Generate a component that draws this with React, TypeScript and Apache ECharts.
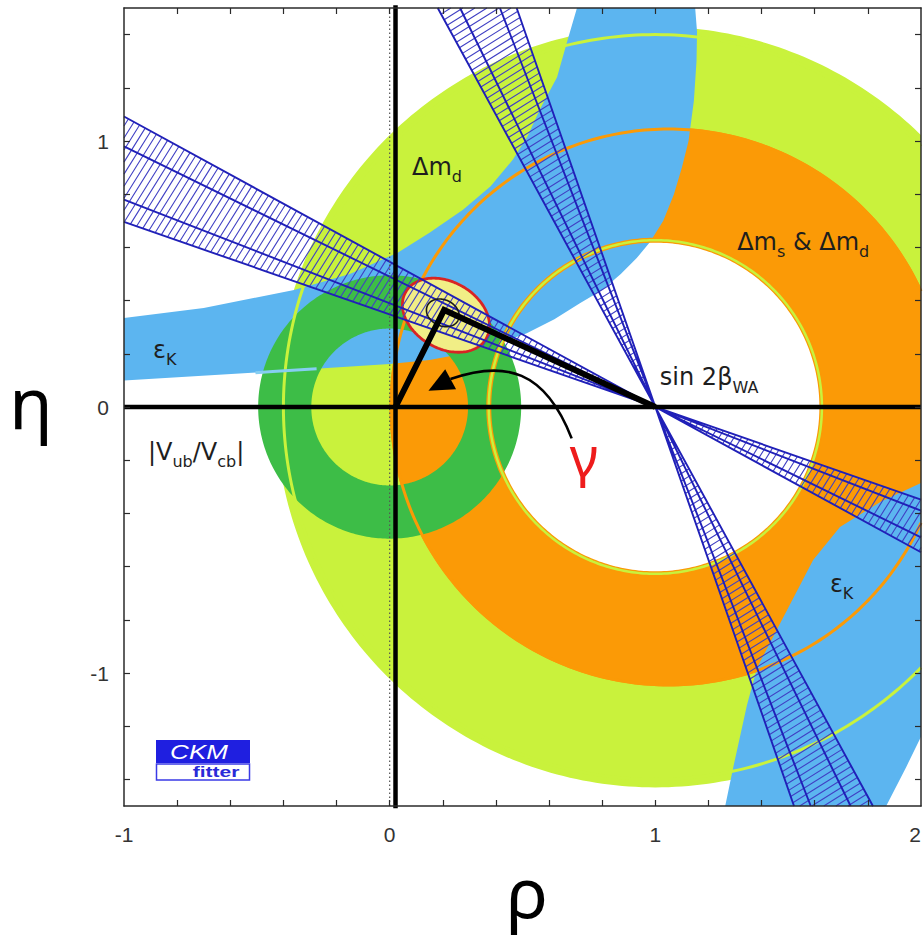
import React, { useEffect, useRef } from 'react';
import * as echarts from 'echarts';

type P = [number, number];

// ---------- axes ----------
const RHO_RANGE: P = [-1, 2];
const ETA_RANGE: P = [-1.5, 1.5];
const xTickValues = [-0.8, -0.6, -0.4, -0.2, 0, 0.2, 0.4, 0.6, 0.8, 1, 1.2, 1.4, 1.6, 1.8];
const xLabelValues = [-1, 0, 1, 2];
const yTickValues = [-1.4, -1.2, -1, -0.8, -0.6, -0.4, -0.2, 0, 0.2, 0.4, 0.6, 0.8, 1, 1.2, 1.4];
const yLabelValues = [-1, 0, 1];

// ---------- constraints (rho, eta) ----------
// Δm_d ring around (1,0): inner, outer radius
const dmdCenter: P = [1, 0];
const dmdRadii: P = [0.62, 1.43];
const dmdContourRadii = [0.627, 1.4];
// Δm_s & Δm_d ring
const dmsOuterCenter: P = [1.05, 0];
const dmsOuterRadius = 1.05;
const dmsInnerCenter: P = [1, 0];
const dmsInnerRadius = 0.625;
const dmsContourRadii = [0.627, 1.045];
// |Vub/Vcb| ring around (0,0)
const vubCenter: P = [0, 0];
const vubRadii: P = [0.295, 0.495];
// eps_K band, upper branch edges and lower branch outline
const epsKUpperTop: P[] = [[-1, 0.335], [-0.7, 0.372], [-0.36, 0.44], [-0.15, 0.5], [0.03, 0.58], [0.15, 0.655], [0.276, 0.742], [0.38, 0.83], [0.464, 0.93], [0.52, 1.02], [0.566, 1.12], [0.63, 1.24], [0.667, 1.37], [0.705, 1.5]];
const epsKUpperBottom: P[] = [[-1, 0.1], [-0.44, 0.133], [0, 0.162], [0.15, 0.177], [0.3, 0.205], [0.42, 0.243], [0.516, 0.277], [0.62, 0.33], [0.716, 0.39], [0.8, 0.44], [0.87, 0.5], [0.93, 0.56], [0.98, 0.62], [1.03, 0.7], [1.07, 0.8], [1.1, 0.9], [1.125, 1.0], [1.145, 1.15], [1.155, 1.3], [1.157, 1.41], [1.15, 1.5]];
const epsKLowerBranch: P[] = [[2, -0.286], [1.85, -0.355], [1.695, -0.451], [1.594, -0.575], [1.496, -0.763], [1.383, -0.98], [1.345, -1.12], [1.293, -1.356], [1.263, -1.5], [1.869, -1.5], [1.945, -1.352], [2, -1.24]];
// sin2β: lines through (1,0); slopes s (band A: eta = s(1-rho), band B: rho = 1 - s*eta)
const sin2bApex: P = [1, 0];
const sin2bSlopes = [0.348, 0.39, 0.49, 0.546];
// global fit
const fitCenter: P = [0.212, 0.345];
const fitAxes: P = [0.175, 0.125];
const fitCoreCenter: P = [0.2, 0.354];
const fitCoreAxes: P = [0.064, 0.049];
const fitTiltDeg = -30;
// unitarity triangle and gamma arrow
const triangle: P[] = [[0.022, 0], [0.205, 0.365], [1, 0]];
const verticalAxisRho = 0.022;
const arrowCurve: P[] = [[0.685, -0.118], [0.585, 0.139], [0.434, 0.177], [0.229, 0.105]];
const arrowHead: P[] = [[0.146, 0.061], [0.209, 0.142], [0.25, 0.067]];
const gammaPos: P = [0.731, -0.18];
// labels
const labelTexts = ['{m|Δm}{s|d}', '{m|Δm}{s|s}{m| & Δm}{s|d}', '{m|sin 2β}{s|WA}', '{m||V}{s|ub}{m|/V}{s|cb}{m||}', '{m|ε}{s|K}', '{m|ε}{s|K}'];
const labelPositions: P[] = [[0.084, 0.904], [1.308, 0.621], [1.017, 0.111], [-0.91, -0.168], [-0.891, 0.215], [1.657, -0.664]];

const C = {
  dmd: '#c9f23c',
  dms: '#fb9a06',
  epsK: '#5cb5f0',
  epsKLine: '#86cef2',
  vub: '#3dbd47',
  fit: '#f1ee86',
  fitEdge: '#d82424',
  band: '#2020b8',
  hatch: '#4040c4',
};

type Box = [number, number, number, number];
const PLOT_BOX: Box = [RHO_RANGE[0], RHO_RANGE[1], ETA_RANGE[0], ETA_RANGE[1]];

// ---------- geometry helpers ----------
function circle(c: P, r: number, ccw: boolean, n = 360): P[] {
  const pts: P[] = [];
  for (let i = 0; i <= n; i++) {
    const t = ((ccw ? 1 : -1) * 2 * Math.PI * i) / n;
    pts.push([c[0] + r * Math.cos(t), c[1] + r * Math.sin(t)]);
  }
  return pts;
}
function ellipse(c: P, ax: P, tiltDeg: number, n = 180): P[] {
  const th = (tiltDeg * Math.PI) / 180;
  const pts: P[] = [];
  for (let i = 0; i <= n; i++) {
    const t = (2 * Math.PI * i) / n;
    const x = ax[0] * Math.cos(t), y = ax[1] * Math.sin(t);
    pts.push([c[0] + x * Math.cos(th) - y * Math.sin(th), c[1] + x * Math.sin(th) + y * Math.cos(th)]);
  }
  return pts;
}
function clipPolygon(poly: P[]): P[] {
  const planes: [0 | 1, number, boolean][] = [[0, PLOT_BOX[0], true], [0, PLOT_BOX[1], false], [1, PLOT_BOX[2], true], [1, PLOT_BOX[3], false]];
  let pts = poly;
  for (const [ax, v, keepGreater] of planes) {
    const res: P[] = [];
    const inside = (p: P) => (keepGreater ? p[ax] >= v : p[ax] <= v);
    for (let i = 0; i < pts.length; i++) {
      const cur = pts[i];
      const prev = pts[(i + pts.length - 1) % pts.length];
      const ci = inside(cur), pi = inside(prev);
      if (ci !== pi) {
        const t = (v - prev[ax]) / (cur[ax] - prev[ax]);
        res.push([prev[0] + t * (cur[0] - prev[0]), prev[1] + t * (cur[1] - prev[1])]);
      }
      if (ci) res.push(cur);
    }
    pts = res;
    if (!pts.length) break;
  }
  return pts;
}
function clipSegment(a: P, b: P, box: Box): [P, P] | null {
  let t0 = 0, t1 = 1;
  const dx = b[0] - a[0], dy = b[1] - a[1];
  const p = [-dx, dx, -dy, dy];
  const q = [a[0] - box[0], box[1] - a[0], a[1] - box[2], box[3] - a[1]];
  for (let i = 0; i < 4; i++) {
    if (p[i] === 0) {
      if (q[i] < 0) return null;
    } else {
      const r = q[i] / p[i];
      if (p[i] < 0) {
        if (r > t1) return null;
        if (r > t0) t0 = r;
      } else {
        if (r < t0) return null;
        if (r < t1) t1 = r;
      }
    }
  }
  return [[a[0] + t0 * dx, a[1] + t0 * dy], [a[0] + t1 * dx, a[1] + t1 * dy]];
}
const f = (n: number) => n.toFixed(2);
function fillPath(api: any, rings: P[][]): string {
  let d = '';
  for (const ring of rings) {
    const c = clipPolygon(ring);
    if (c.length < 3) continue;
    c.forEach((p, i) => {
      const q = api.coord(p);
      d += (i ? 'L' : 'M') + f(q[0]) + ' ' + f(q[1]);
    });
    d += 'Z';
  }
  return d;
}
function strokePath(api: any, lines: P[][], box: Box = PLOT_BOX): string {
  let d = '';
  for (const pl of lines) {
    let last: P | null = null;
    for (let i = 0; i + 1 < pl.length; i++) {
      const seg = clipSegment(pl[i], pl[i + 1], box);
      if (!seg) { last = null; continue; }
      const a = api.coord(seg[0]);
      const b = api.coord(seg[1]);
      if (!last || Math.abs(last[0] - seg[0][0]) > 1e-9 || Math.abs(last[1] - seg[0][1]) > 1e-9) d += 'M' + f(a[0]) + ' ' + f(a[1]);
      d += 'L' + f(b[0]) + ' ' + f(b[1]);
      last = seg[1];
    }
  }
  return d;
}
// sin2β band lines
function bandLines(kind: 'A' | 'B'): P[][] {
  return sin2bSlopes.map((s) =>
    kind === 'A'
      ? ([[sin2bApex[0] - 2.3, s * 2.3], [sin2bApex[0] + 1.3, -s * 1.3]] as P[])
      : ([[sin2bApex[0] - s * 1.6, 1.6], [sin2bApex[0] + s * 1.6, -1.6]] as P[])
  );
}
// hatch segments across a band, parallel in screen space
function bandHatch(kind: 'A' | 'B', thetaDeg: number, spacing: number): P[][] {
  const th = (thetaDeg * Math.PI) / 180;
  const st = Math.sin(th), ct = Math.cos(th);
  const s1 = sin2bSlopes[0], s4 = sin2bSlopes[sin2bSlopes.length - 1];
  const segs: P[][] = [];
  const kMax = Math.ceil((2.4 * (st + ct)) / spacing);
  for (let k = -kMax; k <= kMax; k++) {
    if (k === 0) continue;
    const c = k * spacing;
    if (kind === 'A') {
      const u1 = c / (st + s1 * ct), u4 = c / (st + s4 * ct);
      segs.push([[1 - u1, s1 * u1], [1 - u4, s4 * u4]]);
    } else {
      const v1 = c / (s1 * st + ct), v4 = c / (s4 * st + ct);
      segs.push([[1 - s1 * v1, v1], [1 - s4 * v4, v4]]);
    }
  }
  return segs;
}

const richStyles = {
  m: { fontSize: 24, lineHeight: 36, fontFamily: 'DejaVu Sans', fill: '#1e1e1e', verticalAlign: 'middle' },
  s: { fontSize: 16, lineHeight: 16, fontFamily: 'DejaVu Sans', fill: '#1e1e1e', verticalAlign: 'bottom' },
};

function buildChildren(api: any): any[] {
  const out: any[] = [];
  const push = (el: any) => { if (el) out.push(el); };
  const fillEl = (rings: P[][], fill: string) => {
    const d = fillPath(api, rings);
    return d ? { type: 'path', shape: { pathData: d }, style: { fill, stroke: 'none' } } : null;
  };
  const strokeEl = (lines: P[][], stroke: string, lineWidth: number, extra: any = {}, box: Box = PLOT_BOX) => {
    const d = strokePath(api, lines, box);
    return d ? { type: 'path', shape: { pathData: d }, style: { fill: 'none', stroke, lineWidth, ...extra } } : null;
  };

  // filled regions
  push(fillEl([circle(dmdCenter, dmdRadii[1], true), circle(dmdCenter, dmdRadii[0], false)], C.dmd));
  push(fillEl([circle(dmsOuterCenter, dmsOuterRadius, true), circle(dmsInnerCenter, dmsInnerRadius, false)], C.dms));
  push(fillEl([[...epsKUpperTop, ...epsKUpperBottom.slice().reverse()], epsKLowerBranch], C.epsK));
  push(fillEl([circle(vubCenter, vubRadii[1], true), circle(vubCenter, vubRadii[0], false)], C.vub));

  // contour lines (visible where other constraints overlap)
  push(strokeEl([circle(dmsInnerCenter, dmsContourRadii[0], true)], C.dms, 5));
  push(strokeEl([circle(dmdCenter, dmdContourRadii[0], true)], C.dmd, 2.5));
  push(strokeEl([circle(dmsOuterCenter, dmsContourRadii[1], true)], C.dms, 3));
  push(strokeEl([circle(dmdCenter, dmdContourRadii[1], true)], C.dmd, 3));
  // eps_K lower edge seen through the |Vub/Vcb| ring
  push(strokeEl([epsKUpperBottom], C.epsKLine, 3, {}, [vubCenter[0] - vubRadii[1] - 0.01, vubCenter[0] - vubRadii[0] + 0.02, PLOT_BOX[2], PLOT_BOX[3]]));

  // global fit region
  const fitD = fillPath(api, [ellipse(fitCenter, fitAxes, fitTiltDeg)]);
  push({ type: 'path', shape: { pathData: fitD }, style: { fill: C.fit, stroke: C.fitEdge, lineWidth: 2.8 } });

  // sin2β hatched bands
  push(strokeEl(bandHatch('A', 58, 0.024), C.hatch, 1.1));
  push(strokeEl(bandHatch('B', 32, 0.024), C.hatch, 1.1));
  push(strokeEl([...bandLines('A'), ...bandLines('B')], C.band, 1.9));

  // rho = 0 dotted line
  push(strokeEl([[[0, ETA_RANGE[0]], [0, ETA_RANGE[1]]]], '#555', 1.2, { lineDash: [1.5, 2.5] }));

  // fit core contour
  push(strokeEl([ellipse(fitCoreCenter, fitCoreAxes, fitTiltDeg + 5)], '#1a1a1a', 1.6));

  // thick axes
  const h1 = api.coord([RHO_RANGE[0], 0]), h2 = api.coord([RHO_RANGE[1], 0]);
  push({ type: 'line', shape: { x1: h1[0], y1: h1[1], x2: h2[0], y2: h2[1] }, style: { stroke: '#000', lineWidth: 4.5 } });
  const v1 = api.coord([verticalAxisRho, ETA_RANGE[1] + 0.01]), v2 = api.coord([verticalAxisRho, ETA_RANGE[0] - 0.008]);
  push({ type: 'line', shape: { x1: v1[0], y1: v1[1], x2: v2[0], y2: v2[1] }, style: { stroke: '#000', lineWidth: 4.5 } });

  // triangle
  push({ type: 'polyline', shape: { points: triangle.map((p) => api.coord(p)) }, style: { stroke: '#000', lineWidth: 6, fill: 'none', lineJoin: 'miter' } });

  // gamma arrow
  const ac = arrowCurve.map((p) => api.coord(p));
  push({
    type: 'path',
    shape: { pathData: `M${f(ac[0][0])} ${f(ac[0][1])}C${f(ac[1][0])} ${f(ac[1][1])} ${f(ac[2][0])} ${f(ac[2][1])} ${f(ac[3][0])} ${f(ac[3][1])}` },
    style: { fill: 'none', stroke: '#000', lineWidth: 2.6 },
  });
  push({ type: 'polygon', shape: { points: arrowHead.map((p) => api.coord(p)) }, style: { fill: '#000', stroke: 'none' } });

  const g = api.coord(gammaPos);
  push({
    type: 'text', x: g[0], y: g[1],
    style: { text: 'γ', fontSize: 55, fontFamily: 'Noto Sans', fill: '#ee1c1c', align: 'center', verticalAlign: 'middle', textAlign: 'center', textVerticalAlign: 'middle' },
  });

  // labels
  labelTexts.forEach((t, i) => {
    const q = api.coord(labelPositions[i]);
    push({
      type: 'text', x: q[0], y: q[1],
      style: { text: t, rich: richStyles, align: 'left', verticalAlign: 'middle', textAlign: 'left', textVerticalAlign: 'middle', fontFamily: 'DejaVu Sans', fontSize: 24, fill: '#1e1e1e' },
    });
  });
  return out;
}

function axisBase(range: P, ticks: number[]) {
  return {
    type: 'value',
    min: range[0],
    max: range[1],
    z: 30,
    axisLine: { show: true, onZero: false, lineStyle: { color: '#2a2a2a', width: 1.5 } },
    axisTick: { show: true, inside: true, length: 6, customValues: ticks, lineStyle: { color: '#2a2a2a', width: 1.2 } },
    splitLine: { show: false },
  };
}

const tickLabelStyle = { fontSize: 21, color: '#333', fontFamily: 'Liberation Sans' };

function buildOption(): any {
  return {
    animation: false,
    backgroundColor: '#ffffff',
    grid: { left: 124, top: 8, width: 797, height: 798, containLabel: false, outerBoundsMode: 'none' },
    xAxis: [
      { ...axisBase(RHO_RANGE, xTickValues), position: 'bottom', axisLabel: { ...tickLabelStyle, customValues: xLabelValues, margin: 18, hideOverlap: false, alignMaxLabel: 'right' } },
      { ...axisBase(RHO_RANGE, xTickValues), position: 'top', axisLabel: { show: false } },
    ],
    yAxis: [
      { ...axisBase(ETA_RANGE, yTickValues), position: 'left', axisLabel: { ...tickLabelStyle, customValues: yLabelValues, margin: 15 } },
      { ...axisBase(ETA_RANGE, yTickValues), position: 'right', axisLabel: { show: false } },
    ],
    series: [
      {
        type: 'custom',
        coordinateSystem: 'cartesian2d',
        xAxisIndex: 0,
        yAxisIndex: 0,
        silent: true,
        z: 2,
        data: [[0, 0]],
        renderItem: (_p: any, api: any) => ({ type: 'group', children: buildChildren(api) }),
      },
    ],
    graphic: [
      {
        type: 'text', x: 31, y: 401, z: 100,
        style: { text: 'η', fontSize: 72, fontFamily: 'Noto Sans', fill: '#000', align: 'center', verticalAlign: 'middle', textAlign: 'center', textVerticalAlign: 'middle' },
      },
      {
        type: 'text', x: 527, y: 891, z: 100,
        style: { text: 'ρ', fontSize: 70, fontFamily: 'Noto Sans', fill: '#000', align: 'center', verticalAlign: 'middle', textAlign: 'center', textVerticalAlign: 'middle' },
      },
      // CKMfitter logo
      { type: 'rect', z: 100, shape: { x: 156, y: 740, width: 94, height: 23 }, style: { fill: '#1f1fe0' } },
      { type: 'rect', z: 100, shape: { x: 156.5, y: 764, width: 93, height: 16 }, style: { fill: '#ffffff', stroke: '#3a3ae6', lineWidth: 1.5 } },
      {
        type: 'text', x: 199, y: 752, z: 101, scaleX: 1.3,
        style: { text: 'CKM', fontSize: 20, fontStyle: 'italic', fontFamily: 'Liberation Sans', fill: '#ffffff', align: 'center', verticalAlign: 'middle', textAlign: 'center', textVerticalAlign: 'middle' },
      },
      {
        type: 'text', x: 216, y: 772, z: 101, scaleX: 1.5,
        style: { text: 'fitter', fontSize: 14, fontWeight: 'bold', fontFamily: 'Liberation Sans', fill: '#2a2ad8', align: 'center', verticalAlign: 'middle', textAlign: 'center', textVerticalAlign: 'middle' },
      },
    ],
  };
}

export default function App() {
  const ref = useRef<HTMLDivElement>(null);
  useEffect(() => {
    document.body.style.margin = '0';
    const chart = echarts.init(ref.current!, undefined, { renderer: 'svg' });
    chart.setOption(buildOption());
    return () => chart.dispose();
  }, []);
  return <div ref={ref} style={{ width: 923, height: 941 }} />;
}
